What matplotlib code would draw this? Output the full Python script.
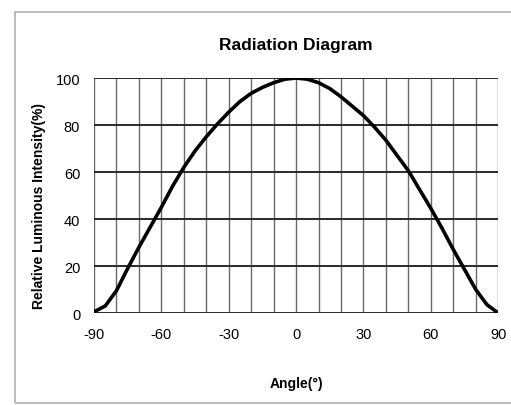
import numpy as np
import matplotlib.pyplot as plt
from matplotlib.patches import Rectangle

# Curve, angle in degrees vs relative intensity in %
angles = [-90, -85, -80, -75, -70, -65, -60, -55, -50, -45, -40, -35, -30, -25, -20, -15, -10, -5,
          0, 5, 10, 15, 20, 25, 30, 35, 40, 45, 50, 55, 60, 65, 70, 75, 80, 85, 90]
intensity = [0.5, 3, 9.5, 19, 28, 36.5, 45, 54, 62, 69, 75, 80.5, 85.5, 90, 93.5, 96, 98, 99.5,
             100, 99.5, 98, 95.5, 92, 88, 84, 79, 73.5, 67, 60.5, 52.5, 44.5, 36, 27, 18.5, 10, 3.5, 0]

x_ticks = [-90, -60, -30, 0, 30, 60, 90]
y_ticks = [0, 20, 40, 60, 80, 100]

plt.rcParams['font.family'] = ['Liberation Sans Narrow', 'Liberation Sans', 'DejaVu Sans']
plt.rcParams['axes.unicode_minus'] = False

fig = plt.figure(figsize=(5.11, 4.06), dpi=100)
ax = fig.add_axes([0.184, 0.2266, 0.791, 0.5788])

# outer chart frame
fig.patches.append(Rectangle((15 / 511, 2 / 406), 1.0, 391 / 406, transform=fig.transFigure,
                             fill=False, edgecolor='#b0b0b0', linewidth=1.2))

# grid: thin vertical lines every 10 deg, darker horizontal lines every 20 %
for a in range(-90, 91, 10):
    ax.axvline(a, color='#6a6a6a', linewidth=1.0, zorder=1)
for v in y_ticks:
    ax.axhline(v, color='#2a2a2a', linewidth=1.4, zorder=1)

ax.plot(angles, intensity, color='black', linewidth=2.6, zorder=3,
        solid_joinstyle='round', solid_capstyle='round')

ax.set_xlim(-90, 90)
ax.set_ylim(0, 100)
ax.set_xticks(x_ticks)
ax.set_yticks(y_ticks)
ax.tick_params(length=0, labelsize=10.5)
ax.tick_params(axis='x', pad=10)
ax.tick_params(axis='y', pad=10)
for s in ax.spines.values():
    s.set_visible(False)

ax.set_title('Radiation Diagram', fontsize=12.5, fontweight='bold', pad=21)
ax.set_xlabel('Angle(°)', fontsize=10, fontweight='bold')
ax.set_ylabel('Relative Luminous Intensity(%)', fontsize=10, fontweight='bold')
ax.xaxis.set_label_coords(0.5, -0.27)
ax.yaxis.set_label_coords(-0.118, 0.46)

fig.savefig('out.png', dpi=100)
